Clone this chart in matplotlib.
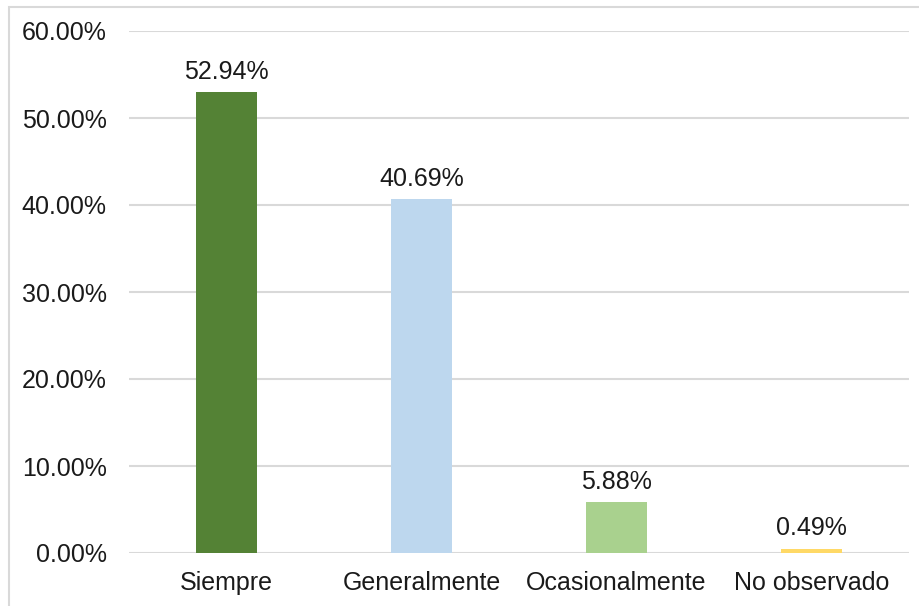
import matplotlib
matplotlib.use('Agg')
import matplotlib.pyplot as plt
from matplotlib.patches import Rectangle

categories = ['Siempre', 'Generalmente', 'Ocasionalmente', 'No observado']
values = [52.94, 40.69, 5.88, 0.49]
colors = ['#548235', '#BDD7EE', '#A9D18E', '#FFD966']
yticks = [0, 10, 20, 30, 40, 50, 60]

plt.rcParams['font.family'] = ['Liberation Sans', 'DejaVu Sans']

fig = plt.figure(figsize=(9.2, 6.06), dpi=100)
W, H = 920, 606

# chart border (cut off at right and bottom)
fig.patches.append(Rectangle((9 / W, -0.1), 1.2, 1.1 - 7 / H,
                             transform=fig.transFigure, fill=False,
                             edgecolor='#D9D9D9', lw=1.5))

ax = fig.add_axes([129 / W, 1 - 553 / H, (909 - 129) / W, (553 - 31) / H])
x = range(len(categories))
bars = ax.bar(x, values, width=0.31, color=colors, zorder=3)

ax.set_xlim(-0.5, len(categories) - 0.5)
ax.set_ylim(0, 60)
ax.set_yticks(yticks)
ax.set_yticklabels([f'{t:.2f}%' for t in yticks], fontsize=18, color='#1a1a1a')
ax.set_xticks(list(x))
ax.set_xticklabels(categories, fontsize=18, color='#1a1a1a')
ax.tick_params(length=0)
ax.tick_params(axis='y', pad=16)
ax.tick_params(axis='x', pad=13)
ax.grid(axis='y', color='#D9D9D9', lw=1.5, zorder=0)
for s in ax.spines.values():
    s.set_visible(False)

for b, v in zip(bars, values):
    ax.annotate(f'{v:.2f}%', (b.get_x() + b.get_width() / 2, v),
                xytext=(0, 6), textcoords='offset points',
                ha='center', va='bottom', fontsize=18, color='#1a1a1a')

fig.savefig('out.png', dpi=100)
